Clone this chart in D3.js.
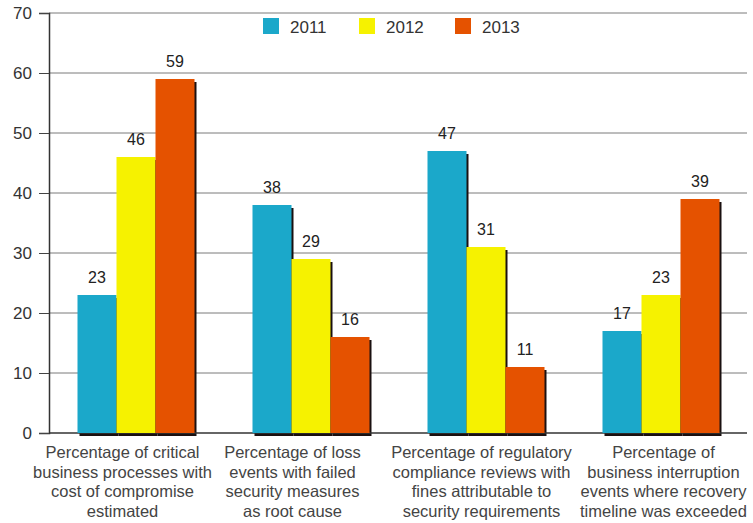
<!DOCTYPE html>
<html>
<head>
<meta charset="utf-8">
<script src="https://cdn.jsdelivr.net/npm/d3@7"></script>
<style>
  body { margin: 0; background: #fff; }
  text { font-family: "Liberation Sans", Arial, sans-serif; }
</style>
</head>
<body>
<div id="chart"></div>
<script>
var categories = [
    ["Percentage of critical", "business processes with", "cost of compromise", "estimated"],
    ["Percentage of loss", "events with failed", "security measures", "as root cause"],
    ["Percentage of regulatory", "compliance reviews with", "fines attributable to", "security requirements"],
    ["Percentage of", "business interruption", "events where recovery", "timeline was exceeded"]
];
var years = ["2011", "2012", "2013"];
var values2011 = [23, 38, 47, 17];
var values2012 = [46, 29, 31, 23];
var values2013 = [59, 16, 11, 39];
var yTicks = [0, 10, 20, 30, 40, 50, 60, 70];
var colours = ["#1ba8ca", "#f6f200", "#e55200"];

var width = 753, height = 523;
var plotLeft = 49, plotRight = 747, plotTop = 13, plotBottom = 433;

var series = [values2011, values2012, values2013];
var rows = [];
categories.forEach((c, i) => {
    years.forEach((yr, j) => {
        rows.push({cat: i, year: yr, value: series[j][i], colour: colours[j]});
    });
});

var svg = d3.select("#chart").append("svg")
    .attr("width", width)
    .attr("height", height);

var y = d3.scaleLinear().domain([0, 70]).range([plotBottom, plotTop]);
var x0 = d3.scaleBand().domain(d3.range(categories.length)).range([plotLeft, plotLeft + 175 * 4]);
var x1 = d3.scaleBand().domain(years).range([0, 117]);
var groupOffset = (x0.bandwidth() - 117) / 2 - 0.5;

// grid lines
svg.append("g")
    .selectAll("line")
    .data(yTicks.slice(1))
    .enter().append("line")
    .attr("x1", plotLeft).attr("x2", plotRight)
    .attr("y1", d => y(d)).attr("y2", d => y(d))
    .attr("stroke", "#7a7a7a")
    .attr("stroke-width", 1);

// y axis
var yAxis = svg.append("g")
    .attr("transform", `translate(${plotLeft},0)`)
    .call(d3.axisLeft(y).tickValues(yTicks).tickSize(10).tickPadding(7));
yAxis.select(".domain").attr("stroke", "#333").attr("stroke-width", 1.5);
yAxis.selectAll(".tick line").attr("stroke", "#444");
yAxis.selectAll(".tick text")
    .attr("fill", "#333")
    .attr("font-size", 17)
    .attr("font-family", "Liberation Sans, Arial, sans-serif");

var barX = d => x0(d.cat) + groupOffset + x1(d.year);

// shadows first, bars after
svg.append("g")
    .selectAll("rect")
    .data(rows)
    .enter().append("rect")
    .attr("x", d => barX(d) + 2)
    .attr("y", d => y(d.value) + 3)
    .attr("width", x1.bandwidth())
    .attr("height", d => plotBottom - y(d.value))
    .attr("fill", "#1a1010");

// x axis line
svg.append("line")
    .attr("x1", plotLeft).attr("x2", plotRight)
    .attr("y1", plotBottom).attr("y2", plotBottom)
    .attr("stroke", "#333")
    .attr("stroke-width", 1.5);

svg.append("g")
    .selectAll("rect")
    .data(rows)
    .enter().append("rect")
    .attr("x", barX)
    .attr("y", d => y(d.value))
    .attr("width", x1.bandwidth())
    .attr("height", d => plotBottom - y(d.value))
    .attr("fill", d => d.colour);

// value labels
svg.append("g")
    .selectAll("text")
    .data(rows)
    .enter().append("text")
    .attr("x", d => barX(d) + x1.bandwidth() / 2)
    .attr("y", d => y(d.value) - 12)
    .attr("text-anchor", "middle")
    .attr("font-size", 16)
    .attr("fill", "#222")
    .text(d => d.value);

// category labels
var labelNudge = [-14, -19, -5, 2];
var catLabels = svg.append("g")
    .selectAll("text")
    .data(categories)
    .enter().append("text")
    .attr("text-anchor", "middle")
    .attr("font-size", 16.5)
    .attr("fill", "#444");
catLabels.each(function (d, i) {
    var t = d3.select(this);
    d.forEach((line, k) => {
        t.append("tspan")
            .attr("x", x0(i) + x0.bandwidth() / 2 + labelNudge[i])
            .attr("y", 458 + k * 19.5)
            .text(line);
    });
});

// legend
var legend = svg.append("g")
    .selectAll("g")
    .data(years)
    .enter().append("g")
    .attr("transform", (d, i) => `translate(${263 + i * 96},18)`);
legend.append("rect")
    .attr("width", 16).attr("height", 16)
    .attr("fill", (d, i) => colours[i]);
legend.append("text")
    .attr("x", 27).attr("y", 15)
    .attr("font-size", 17)
    .attr("fill", "#333")
    .text(d => d);
</script>
</body>
</html>
